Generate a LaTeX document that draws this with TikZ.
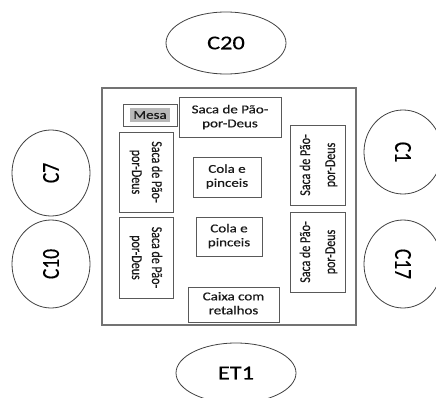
\documentclass[tikz,border=0pt]{standalone}
\usepackage{graphicx}
\usepackage{fontspec}
\setmainfont{Carlito}
\usetikzlibrary{shapes.geometric}
\newcommand\hx[1]{\scalebox{1.25}[1]{#1}}
\newcommand\vx[1]{\scalebox{1}[1.25]{#1}}
\newcommand\twol[2]{\begin{tabular}{@{}c@{}}#1\\#2\end{tabular}}
\tikzset{
  seat/.style={ellipse, draw=black!75, line width=0.8pt, inner sep=0pt, font=\fontsize{19.5}{22}\selectfont\addfontfeature{FakeBold=0.4}, text=black},
  item/.style={rectangle, draw=black!65, line width=0.8pt, inner sep=0pt, font=\fontsize{12}{14}\selectfont\addfontfeature{FakeBold=0.5}, text=black!90},
  room/.style={rectangle, draw=black!55, line width=1.2pt, inner sep=0pt}
}
\begin{document}
\begin{tikzpicture}[x=1pt,y=-1pt]
\useasboundingbox (0,0) rectangle (436,398);
\clip (0,0) rectangle (436,398);
% room
\node[room, minimum width=254pt, minimum height=237pt] (room) at (229,206.5) {};
% seats
\node[seat, minimum width=120pt, minimum height=62pt] (c20) at (226,43) {\hx{C20}};
\node[seat, minimum width=78pt, minimum height=86pt] (c7) at (51,173) {\rotatebox{90}{\vx{C7}}};
\node[seat, minimum width=78pt, minimum height=88pt] (c10) at (51,264) {\rotatebox{90}{\vx{C10}}};
\node[seat, minimum width=78pt, minimum height=84pt] (c1) at (403,152) {\rotatebox{-90}{\vx{C1}}};
\node[seat, minimum width=78pt, minimum height=88pt] (c17) at (403,264) {\rotatebox{-90}{\vx{C17}}};
\node[seat, minimum width=120pt, minimum height=60pt] (et1) at (236,373) {\hx{ET1}};
% items
\node[item, minimum width=54pt, minimum height=22pt] (mesa) at (150,115)
  {\colorbox{black!28}{\hx{Mesa}}};
\node[item, minimum width=102pt, minimum height=40pt] (sacaT) at (230,117.5)
  {\hx{\twol{Saca de Pão-}{por-Deus}}};
\node[item, minimum width=54pt, minimum height=80pt] (sacaL1) at (146,172)
  {\rotatebox{-90}{\vx{\fontsize{12}{16}\selectfont\twol{Saca de Pão-}{por-Deus}}}};
\node[item, minimum width=54pt, minimum height=81pt] (sacaL2) at (146,257.5)
  {\rotatebox{-90}{\vx{\fontsize{12}{16}\selectfont\twol{Saca de Pão-}{por-Deus}}}};
\node[item, minimum width=68pt, minimum height=40pt] (cola1) at (227,177)
  {\hx{\twol{Cola e}{pinceis}}};
\node[item, minimum width=66pt, minimum height=39pt] (cola2) at (229,236.5)
  {\hx{\twol{Cola e}{pinceis}}};
\node[item, minimum width=55pt, minimum height=80pt] (sacaR1) at (317.5,165)
  {\rotatebox{90}{\vx{\fontsize{12}{20}\selectfont\twol{Saca de Pão-}{por-Deus}}}};
\node[item, minimum width=55pt, minimum height=80pt] (sacaR2) at (317.5,252)
  {\rotatebox{90}{\vx{\fontsize{12}{20}\selectfont\twol{Saca de Pão-}{por-Deus}}}};
\node[item, minimum width=91pt, minimum height=35pt] (caixa) at (233.5,304.5)
  {\hx{\twol{Caixa com}{retalhos}}};
\end{tikzpicture}
\end{document}
